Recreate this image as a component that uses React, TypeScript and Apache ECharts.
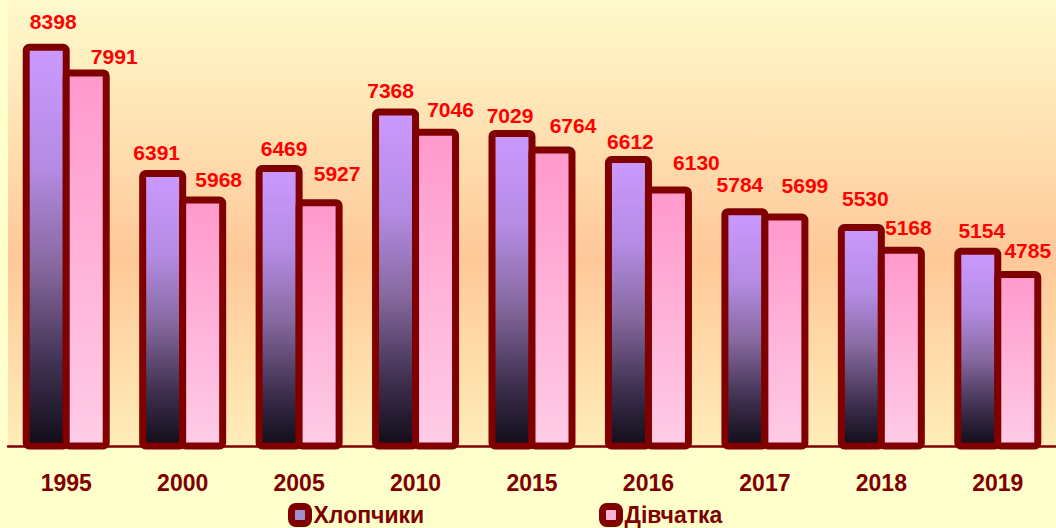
import React, { useEffect, useRef } from "react";
import * as echarts from "echarts";

const years = ["1995", "2000", "2005", "2010", "2015", "2016", "2017", "2018", "2019"];
const boys = [8398, 6391, 6469, 7368, 7029, 6612, 5784, 5530, 5154];
const girls = [7991, 5968, 5927, 7046, 6764, 6130, 5699, 5168, 4785];
const seriesNames = ["Хлопчики", "Дівчатка"];

// label nudges relative to bar top: [dx, distance above]
const boyLabelShift = [[7, 25], [-6, 20], [5, 19], [-5, 21], [-2, 17], [2, 17], [-5, 26], [4, 28], [4, 20]];
const girlLabelShift = [[28, 15], [16, 20], [18, 28], [15, 22], [21, 24], [28, 26], [20, 30], [7, 22], [10, 23]];

const FONT = "Arial, 'Liberation Sans', sans-serif";
const DARK = "#800000";

export default function App() {
  const ref = useRef<HTMLDivElement>(null);
  useEffect(() => {
    if (!ref.current) return;
    const chart = echarts.init(ref.current, null, { renderer: "svg" });
    const lg = (stops: [number, string][]) =>
      new echarts.graphic.LinearGradient(0, 0, 0, 1, stops.map(([offset, color]) => ({ offset, color })));

    const boyGrad = lg([[0, "#CC99FF"], [0.3, "#B48BE3"], [0.55, "#86699F"], [0.8, "#3F3050"], [1, "#100C18"]]);
    const girlGrad = lg([[0, "#FF99CC"], [1, "#FFCCE6"]]);

    const mkLabel = (shift: number[]) => ({
      offset: [shift[0], -(shift[1] - 13)],
    });

    const legendText = { fontFamily: FONT, fontSize: 23, fontWeight: "bold", color: DARK };
    const valueLabel = {
      show: true,
      position: "top",
      distance: 0,
      fontFamily: FONT,
      fontSize: 21,
      fontWeight: "bold",
      color: "#FF0000",
    };

    chart.setOption({
      animation: false,
      backgroundColor: "#FFFFCC",
      graphic: [
        {
          type: "rect",
          z: -10,
          silent: true,
          shape: { x: 8, y: 0, width: 1048, height: 446 },
          style: { fill: lg([[0, "#FFFACC"], [0.58, "#FFC898"], [1, "#FFEDB8"]]) },
        },
      ],
      grid: { left: 8, top: 6, width: 1050, height: 440 },
      legend: [
        {
          data: [seriesNames[0]],
          left: 288,
          top: 503,
          padding: 0,
          icon: "roundRect",
          itemWidth: 17,
          itemHeight: 17,
          itemStyle: { color: "#A090D0", borderColor: DARK, borderWidth: 7 },
          textStyle: legendText,
        },
        {
          data: [seriesNames[1]],
          left: 599,
          top: 503,
          padding: 0,
          icon: "roundRect",
          itemWidth: 17,
          itemHeight: 17,
          itemStyle: { color: "#FFB0D8", borderColor: DARK, borderWidth: 7 },
          textStyle: legendText,
        },
      ],
      xAxis: {
        type: "category",
        data: years,
        z: 5,
        axisLine: { lineStyle: { color: DARK, width: 2.5 } },
        axisTick: { length: 8, lineStyle: { color: DARK, width: 2 } },
        axisLabel: { fontFamily: FONT, fontSize: 23, fontWeight: "bold", color: DARK, margin: 25 },
      },
      yAxis: {
        type: "value",
        min: 2000,
        max: 9000,
        show: false,
        splitLine: { show: false },
      },
      series: [
        {
          name: seriesNames[0],
          type: "bar",
          barWidth: 47,
          barGap: "-14.9%",
          itemStyle: { color: boyGrad, borderColor: DARK, borderWidth: 7, borderRadius: 3 },
          label: valueLabel,
          data: boys.map((v, i) => ({ value: v, label: mkLabel(boyLabelShift[i]) })),
        },
        {
          name: seriesNames[1],
          type: "bar",
          barWidth: 47,
          barGap: "-14.9%",
          itemStyle: { color: girlGrad, borderColor: DARK, borderWidth: 7, borderRadius: 3 },
          label: valueLabel,
          data: girls.map((v, i) => ({ value: v, label: mkLabel(girlLabelShift[i]) })),
        },
      ],
    });
    return () => chart.dispose();
  }, []);
  return (
    <div
      ref={ref}
      style={{ position: "fixed", left: 0, top: 0, width: 1056, height: 528 }}
    />
  );
}
